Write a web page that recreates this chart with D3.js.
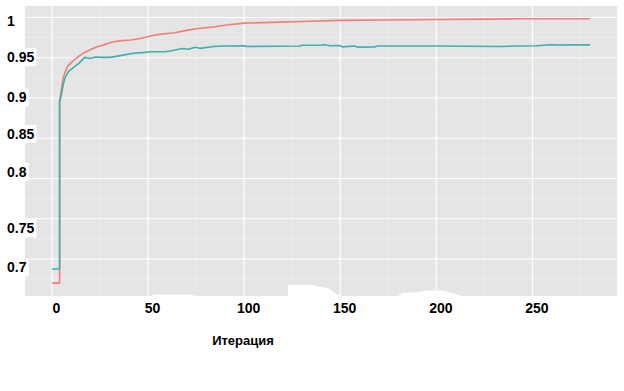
<!DOCTYPE html>
<html>
<head>
<meta charset="utf-8">
<script src="https://cdn.jsdelivr.net/npm/d3@7"></script>
<style>
  html, body { margin: 0; padding: 0; background: #ffffff; }
  svg { display: block; }
</style>
</head>
<body>
<svg id="chart" width="624" height="391"></svg>
<script>
// ---- data ----
const trainIter = [0, 4, 4, 5, 6, 8, 10, 13, 16.5, 20, 23.5, 27, 30.5, 35, 41, 46, 51, 56, 64, 70, 75, 83, 92, 100, 115, 130, 150, 175, 200, 226, 243, 280];
const trainAcc  = [0.670, 0.670, 0.895, 0.912, 0.9265, 0.939, 0.944, 0.950, 0.956, 0.960, 0.9637, 0.966, 0.969, 0.971, 0.972, 0.974, 0.977, 0.979, 0.981, 0.984, 0.986, 0.988, 0.991, 0.993, 0.994, 0.995, 0.9965, 0.997, 0.9975, 0.998, 0.9985, 0.9985];

const testIter = [0, 4, 4, 5, 6, 7, 8.7, 11.3, 14, 17, 20, 22.6, 26, 30.4, 35.6, 42.3, 48.6, 51, 59, 63, 67.6, 71, 74.5, 77, 84, 90, 100.5, 101.3, 129, 130, 139, 142, 144.6, 150, 151, 157.6, 159, 168, 169.5, 200, 233, 243, 252, 260, 265, 270, 280];
const testAcc  = [0.6876, 0.6876, 0.895, 0.905, 0.918, 0.926, 0.933, 0.938, 0.943, 0.9505, 0.949, 0.951, 0.9505, 0.9505, 0.9526, 0.9555, 0.9567, 0.9575, 0.9575, 0.959, 0.9615, 0.9605, 0.9630, 0.9617, 0.964, 0.9646, 0.965, 0.9640, 0.9646, 0.9655, 0.9655, 0.9662, 0.9650, 0.9652, 0.9635, 0.9646, 0.9632, 0.9635, 0.9646, 0.9646, 0.9640, 0.9646, 0.965, 0.9662, 0.9658, 0.9662, 0.966];

const xTicks = [0, 50, 100, 150, 200, 250];
const xMinorTicks = [25, 75, 125, 175, 225, 275];
const yTicks = [0.7, 0.75, 0.8, 0.85, 0.9, 0.95, 1];
const yTickLabels = ["0.7", "0.75", "0.8", "0.85", "0.9", "0.95", "1"];
const yMinorTicks = [0.675, 0.725, 0.775, 0.825, 0.875, 0.925, 0.975];
const xTitle = "Итерация";

// ---- layout ----
const svg = d3.select("#chart");
const panel = { left: 25, right: 617, top: 6, bottom: 296 };
const x = d3.scaleLinear().domain([-14, 294]).range([panel.left, panel.right]);
const y = d3.scaleLinear().domain([0.654, 1.0143]).range([panel.bottom, panel.top]);

// panel background
svg.append("rect")
  .attr("x", panel.left).attr("y", panel.top)
  .attr("width", panel.right - panel.left).attr("height", panel.bottom - panel.top)
  .attr("fill", "#e5e5e5");

// minor grid
const grid = svg.append("g");
grid.selectAll(".vminor").data(xMinorTicks).join("line")
  .attr("x1", d => x(d)).attr("x2", d => x(d))
  .attr("y1", panel.top).attr("y2", panel.bottom)
  .attr("stroke", "#f0f0f0").attr("stroke-width", 0.6);
grid.selectAll(".hminor").data(yMinorTicks).join("line")
  .attr("x1", panel.left).attr("x2", panel.right)
  .attr("y1", d => y(d)).attr("y2", d => y(d))
  .attr("stroke", "#f0f0f0").attr("stroke-width", 0.6);
// major grid
grid.selectAll(".vmajor").data(xTicks).join("line")
  .attr("x1", d => x(d)).attr("x2", d => x(d))
  .attr("y1", panel.top).attr("y2", panel.bottom)
  .attr("stroke", "#ffffff").attr("stroke-width", 1.2);
grid.selectAll(".hmajor").data(yTicks).join("line")
  .attr("x1", panel.left).attr("x2", panel.right)
  .attr("y1", d => y(d)).attr("y2", d => y(d))
  .attr("stroke", "#ffffff").attr("stroke-width", 1.2);

// lines
const line = d3.line().x(d => x(d[0])).y(d => y(d[1]));
const trainData = trainIter.map((it, i) => [it, trainAcc[i]]);
const testData = testIter.map((it, i) => [it, testAcc[i]]);

svg.append("path").datum(trainData)
  .attr("d", line).attr("fill", "none")
  .attr("stroke", "#f07f77").attr("stroke-width", 1.6)
  .attr("stroke-linejoin", "round");
svg.append("path").datum(testData)
  .attr("d", line).attr("fill", "none")
  .attr("stroke", "#3fafac").attr("stroke-width", 1.6)
  .attr("stroke-linejoin", "round");

// white erasure patches at the bottom of the panel (as in the reference)
const patches = [
  "M150,296 L155,294.5 L190,294.5 L196,296 Z",
  "M288,296 L288,285 L312,285 L322,287 L330,289 L336,294 L342,296 Z",
  "M398,296 L402,293 L418,292 L428,290.5 L444,290.5 L452,293 L462,296 Z"
];
svg.append("g").selectAll("path").data(patches).join("path")
  .attr("d", d => d).attr("fill", "#ffffff");

// x axis (labels only)
const xAxis = d3.axisBottom(x).tickValues(xTicks).tickSize(0).tickPadding(0).tickFormat(d3.format("d"));
const gx = svg.append("g").attr("transform", `translate(0, ${panel.bottom})`).call(xAxis);
gx.select(".domain").remove();
gx.selectAll("text")
  .attr("dx", 4).attr("y", 17).attr("dy", 0)
  .attr("fill", "#000").style("font-family", "'Liberation Sans', Arial, sans-serif")
  .style("font-size", "14px").style("font-weight", "bold");

// y axis labels (left-aligned, with white backing)
const yShift = [8, 9, -7, -5, -1, -1, 2.5];
const yAxis = d3.axisLeft(y).tickValues(yTicks).tickSize(0).tickPadding(0)
  .tickFormat((d, i) => yTickLabels[i]);
const gy = svg.append("g").attr("transform", "translate(0,0)").call(yAxis);
gy.select(".domain").remove();
gy.selectAll(".tick").each(function(d, i) {
  const t = d3.select(this);
  const txt = t.select("text")
    .attr("text-anchor", "start").attr("x", 7).attr("dy", 0)
    .attr("y", yShift[i] + 5)
    .attr("fill", "#000").style("font-family", "'Liberation Sans', Arial, sans-serif")
    .style("font-size", "14px").style("font-weight", "bold");
  const bb = txt.node().getBBox();
  t.insert("rect", "text")
    .attr("x", bb.x - 1).attr("y", bb.y - 1)
    .attr("width", bb.width + 3).attr("height", bb.height + 2)
    .attr("fill", "#ffffff");
});

// x title
svg.append("text")
  .attr("x", 243).attr("y", 345)
  .attr("text-anchor", "middle")
  .attr("fill", "#000").style("font-family", "'Liberation Sans', Arial, sans-serif")
  .style("font-size", "13px").style("font-weight", "bold")
  .text(xTitle);
</script>
</body>
</html>
